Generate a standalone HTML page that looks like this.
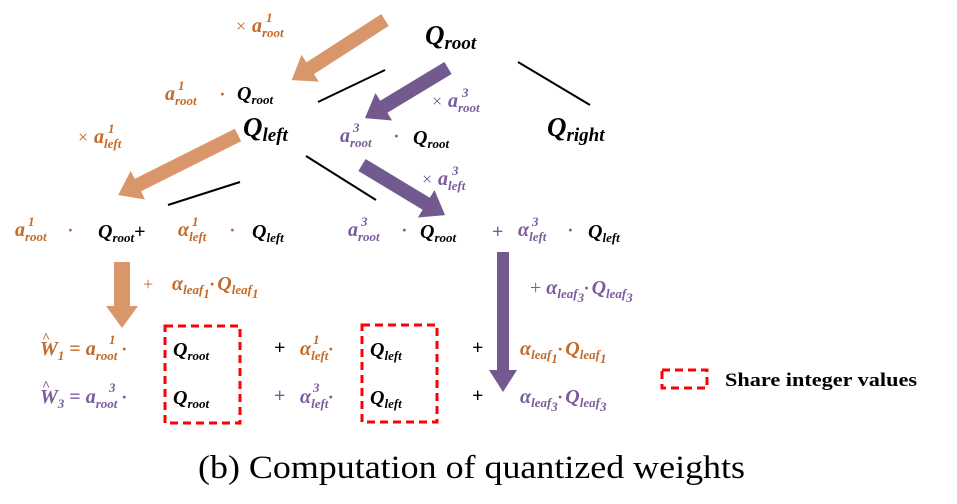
<!DOCTYPE html>
<html><head><meta charset="utf-8"><style>
html,body{margin:0;padding:0;background:#fff;width:957px;height:504px;overflow:hidden}
svg text{font-family:"Liberation Serif",serif;font-weight:bold;font-style:italic}
.o{fill:#c46a28}.p{fill:#7a5c9c}.k{fill:#000}
.s{font-size:13px}
.n{font-style:normal !important;font-weight:normal !important}
.nb{font-style:normal !important}
</style></head><body>
<svg width="957" height="504" viewBox="0 0 957 504" xmlns="http://www.w3.org/2000/svg">
<g stroke="#000" stroke-width="2">
<line x1="385" y1="70" x2="318" y2="102"/>
<line x1="518" y1="62" x2="590" y2="105"/>
<line x1="240" y1="182" x2="168" y2="205"/>
<line x1="306" y1="156" x2="376" y2="200"/>
</g>
<g fill="#d9966a">
<path transform="translate(385,20) rotate(147.2)" d="M0,-7 L89,-7 L89,-16 L111,0 L89,16 L89,7 L0,7Z"/>
<path transform="translate(238,135) rotate(153.4)" d="M0,-7 L112,-7 L112,-16 L134,0 L112,16 L112,7 L0,7Z"/>
<path transform="translate(122,262) rotate(90)" d="M0,-8 L44,-8 L44,-16 L66,0 L44,16 L44,8 L0,8Z"/>
</g>
<g fill="#735a8e">
<path transform="translate(448,68) rotate(148.9)" d="M0,-7 L75,-7 L75,-16 L97,0 L75,16 L75,7 L0,7Z"/>
<path transform="translate(362,165) rotate(31.1)" d="M0,-7 L75,-7 L75,-16 L97,0 L75,16 L75,7 L0,7Z"/>
<path transform="translate(503,252) rotate(90)" d="M0,-6 L118,-6 L118,-14 L140,0 L118,14 L118,6 L0,6Z"/>
</g>
<text class="o n" x="236" y="32" font-size="18">×</text>
<text class="o" x="252" y="32" font-size="20">a<tspan class="s" dy="5">root</tspan></text>
<text class="o s" x="266" y="22">1</text>
<text class="k" x="425" y="44" font-size="27">Q<tspan font-size="19" dy="5">root</tspan></text>
<text class="o" x="165" y="100" font-size="20">a<tspan class="s" dy="5">root</tspan></text>
<text class="o s" x="178" y="90">1</text>
<text class="o" x="220" y="100" font-size="18">·</text>
<text class="k" x="237" y="100" font-size="20">Q<tspan class="s" dy="4">root</tspan></text>
<text class="p n" x="432" y="107" font-size="18">×</text>
<text class="p" x="448" y="107" font-size="20">a<tspan class="s" dy="5">root</tspan></text>
<text class="p s" x="462" y="97">3</text>
<text class="k" x="243" y="136" font-size="27">Q<tspan font-size="19" dy="5">left</tspan></text>
<text class="p" x="340" y="142" font-size="20">a<tspan class="s" dy="5">root</tspan></text>
<text class="p s" x="353" y="132">3</text>
<text class="p" x="394" y="142" font-size="18">·</text>
<text class="k" x="413" y="144" font-size="20">Q<tspan class="s" dy="4">root</tspan></text>
<text class="k" x="547" y="136" font-size="27">Q<tspan font-size="19" dy="5">right</tspan></text>
<text class="o n" x="78" y="143" font-size="18">×</text>
<text class="o" x="94" y="143" font-size="20">a<tspan class="s" dy="5">left</tspan></text>
<text class="o s" x="108" y="133">1</text>
<text class="p n" x="422" y="185" font-size="18">×</text>
<text class="p" x="438" y="185" font-size="20">a<tspan class="s" dy="5">left</tspan></text>
<text class="p s" x="452" y="175">3</text>
<text class="o" x="15" y="236" font-size="20">a<tspan class="s" dy="5">root</tspan></text>
<text class="o s" x="28" y="226">1</text>
<text class="o" x="68" y="236" font-size="18">·</text>
<text class="k" x="98" y="238" font-size="20">Q<tspan class="s" dy="4">root</tspan><tspan dy="-4" font-style="normal">+</tspan></text>
<text class="o" x="178" y="236" font-size="20">α<tspan class="s" dy="5">left</tspan></text>
<text class="o s" x="192" y="226">1</text>
<text class="o" x="230" y="236" font-size="18">·</text>
<text class="k" x="252" y="238" font-size="20">Q<tspan class="s" dy="4">left</tspan></text>
<text class="p" x="348" y="236" font-size="20">a<tspan class="s" dy="5">root</tspan></text>
<text class="p s" x="361" y="226">3</text>
<text class="p" x="402" y="236" font-size="18">·</text>
<text class="k" x="420" y="238" font-size="20">Q<tspan class="s" dy="4">root</tspan></text>
<text class="p nb" x="492" y="238" font-size="20">+</text>
<text class="p" x="518" y="236" font-size="20">α<tspan class="s" dy="5">left</tspan></text>
<text class="p s" x="532" y="226">3</text>
<text class="p" x="568" y="236" font-size="18">·</text>
<text class="k" x="588" y="238" font-size="20">Q<tspan class="s" dy="4">left</tspan></text>
<text class="o n" x="143" y="290" font-size="18">+</text>
<text class="o" x="172" y="290" font-size="20">α<tspan class="s" dy="4">leaf</tspan><tspan class="s" dy="4">1</tspan><tspan font-size="18" dy="-8">·</tspan><tspan dx="3">Q</tspan><tspan class="s" dy="4">leaf</tspan><tspan class="s" dy="4">1</tspan></text>
<text class="p" x="530" y="294" font-size="20"><tspan font-style="normal" font-weight="normal">+</tspan> α<tspan class="s" dy="4">leaf</tspan><tspan class="s" dy="4">3</tspan><tspan font-size="18" dy="-8">·</tspan><tspan dx="3">Q</tspan><tspan class="s" dy="4">leaf</tspan><tspan class="s" dy="4">3</tspan></text>
<text class="o" x="40" y="355" font-size="20">W<tspan class="s" dy="5">1</tspan><tspan dy="-5" font-style="normal"> = </tspan>a<tspan class="s" dy="5">root</tspan><tspan dy="-5" font-size="18"> ·</tspan></text>
<text class="o nb" x="42" y="342" font-size="14">^</text>
<text class="o s" x="109" y="344">1</text>
<text class="p" x="40" y="403" font-size="20">W<tspan class="s" dy="5">3</tspan><tspan dy="-5" font-style="normal"> = </tspan>a<tspan class="s" dy="5">root</tspan><tspan dy="-5" font-size="18"> ·</tspan></text>
<text class="p nb" x="42" y="390" font-size="14">^</text>
<text class="p s" x="109" y="392">3</text>
<text class="k" x="173" y="356" font-size="20">Q<tspan class="s" dy="4">root</tspan></text>
<text class="k" x="173" y="404" font-size="20">Q<tspan class="s" dy="4">root</tspan></text>
<text class="k nb" x="274" y="354" font-size="20">+</text>
<text class="p nb" x="274" y="402" font-size="20">+</text>
<text class="o" x="300" y="355" font-size="20">α<tspan class="s" dy="5">left</tspan><tspan dy="-5" font-size="18">·</tspan></text>
<text class="o s" x="313" y="344">1</text>
<text class="p" x="300" y="403" font-size="20">α<tspan class="s" dy="5">left</tspan><tspan dy="-5" font-size="18">·</tspan></text>
<text class="p s" x="313" y="392">3</text>
<text class="k" x="370" y="356" font-size="20">Q<tspan class="s" dy="4">left</tspan></text>
<text class="k" x="370" y="404" font-size="20">Q<tspan class="s" dy="4">left</tspan></text>
<text class="k nb" x="472" y="354" font-size="20">+</text>
<text class="k nb" x="472" y="402" font-size="20">+</text>
<text class="o" x="520" y="355" font-size="20">α<tspan class="s" dy="4">leaf</tspan><tspan class="s" dy="4">1</tspan><tspan font-size="18" dy="-8">·</tspan><tspan dx="3">Q</tspan><tspan class="s" dy="4">leaf</tspan><tspan class="s" dy="4">1</tspan></text>
<text class="p" x="520" y="403" font-size="20">α<tspan class="s" dy="4">leaf</tspan><tspan class="s" dy="4">3</tspan><tspan font-size="18" dy="-8">·</tspan><tspan dx="3">Q</tspan><tspan class="s" dy="4">leaf</tspan><tspan class="s" dy="4">3</tspan></text>
<g fill="none" stroke="#ff0000" stroke-width="3" stroke-dasharray="8,5">
<rect x="165" y="326" width="75" height="97"/>
<rect x="362" y="325" width="75" height="97"/>
<rect x="662" y="370" width="45" height="18"/>
</g>
<text class="nb" x="725" y="386" font-size="19" fill="#000" textLength="192" lengthAdjust="spacingAndGlyphs">Share integer values</text>
<text class="n" x="198" y="478" font-size="33" fill="#000" textLength="547" lengthAdjust="spacingAndGlyphs">(b) Computation of quantized weights</text>
</svg>
</body></html>
